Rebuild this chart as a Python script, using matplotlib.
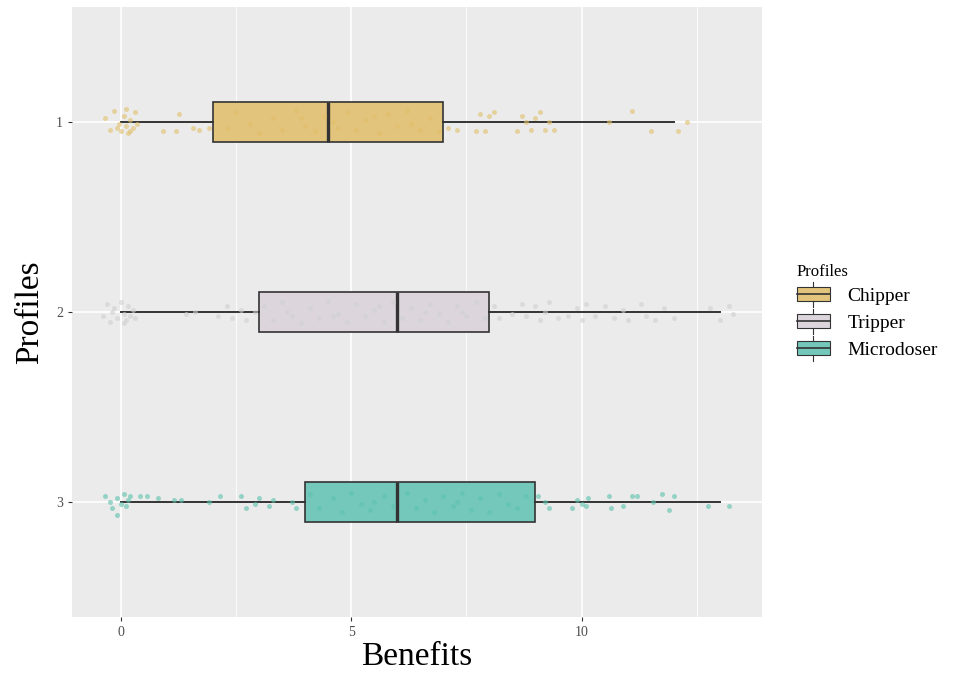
import matplotlib
import matplotlib.pyplot as plt
from matplotlib.legend_handler import HandlerBase
from matplotlib.patches import Rectangle
from matplotlib.lines import Line2D

matplotlib.use("Agg")

# Data
profiles = ["Chipper", "Tripper", "Microdoser"]
positions = [1, 2, 3]
fill_colors = ["#E3C47C", "#DCD6DC", "#74C8BB"]
point_colors = ["#E0C06A", "#D0D0D0", "#5CC2AE"]

# box statistics: whisker low, q1, median, q3, whisker high
whislo = [0, 0, 0]
q1 = [2, 3, 4]
medians = [4.5, 6, 6]
q3 = [7, 8, 9]
whishi = [12, 13, 13]

# jittered observations as (benefit, vertical jitter)
chipper_pts = [(-0.35, -0.02), (-0.25, 0.04), (-0.15, -0.06), (-0.05, 0.01), (0.0, 0.05), (0.05, -0.03),
               (0.1, 0.02), (0.15, 0.06), (0.2, -0.01), (0.25, 0.03), (0.3, -0.05), (0.1, -0.07),
               (0.2, 0.05), (-0.1, 0.03), (0.35, 0.01), (0.9, 0.05), (1.25, -0.04), (1.55, 0.03),
               (1.7, 0.04), (1.9, 0.03), (1.2, 0.05), (2.3, 0.03), (2.5, -0.05), (2.8, 0.01),
               (3.0, 0.06), (3.3, -0.02), (3.5, 0.04), (3.8, -0.06), (4.0, 0.02), (4.2, 0.05),
               (4.4, -0.03), (4.7, 0.03), (4.9, -0.05), (5.1, 0.04), (5.3, -0.01), (5.6, 0.06),
               (5.8, -0.04), (6.0, 0.02), (6.2, -0.06), (6.5, 0.04), (6.7, -0.02), (6.9, 0.05),
               (3.9, -0.02), (4.6, 0.0), (5.5, -0.03), (6.3, 0.01), (7.1, 0.03), (7.3, 0.04),
               (7.7, 0.05), (7.9, 0.05), (8.0, -0.03), (7.8, -0.04), (8.1, -0.05), (8.6, 0.05),
               (8.8, 0.0), (8.9, 0.04), (9.0, -0.02), (9.2, 0.04), (9.3, 0.0), (9.4, 0.04),
               (8.7, -0.03), (9.1, -0.05), (10.6, 0.0), (11.1, -0.06), (11.5, 0.05), (12.1, 0.05),
               (12.3, 0.0)]
tripper_pts = [(-0.4, 0.02), (-0.3, -0.04), (-0.25, 0.05), (-0.15, -0.02), (-0.1, 0.03), (0.0, -0.05),
               (0.05, 0.01), (0.1, 0.04), (0.15, -0.03), (0.2, 0.02), (0.25, -0.01), (-0.2, 0.0),
               (0.05, 0.06), (0.3, 0.03), (1.4, 0.01), (1.6, 0.0), (2.1, 0.02), (2.3, -0.03),
               (2.4, 0.03), (2.6, -0.01), (2.7, 0.04), (2.9, 0.0), (3.1, -0.03), (3.3, 0.04),
               (3.5, -0.05), (3.7, 0.02), (3.9, 0.06), (4.1, -0.02), (4.3, 0.03), (4.5, -0.06),
               (4.7, 0.01), (4.9, 0.05), (5.1, -0.04), (5.3, 0.02), (5.5, -0.01), (5.7, 0.05),
               (5.9, -0.05), (6.1, 0.03), (6.3, -0.02), (6.5, 0.04), (6.7, -0.04), (6.9, 0.01),
               (7.1, 0.05), (7.3, -0.03), (7.5, 0.02), (7.7, -0.05), (7.9, 0.03), (3.6, 0.0),
               (4.6, 0.02), (5.6, -0.03), (6.6, 0.0), (7.4, 0.0), (8.1, -0.03), (8.2, 0.03),
               (8.5, 0.01), (8.7, -0.04), (8.8, 0.02), (9.0, -0.03), (9.1, 0.04), (9.2, 0.0),
               (9.3, -0.05), (9.5, 0.03), (9.7, 0.02), (9.9, -0.02), (10.0, 0.04), (10.1, -0.04),
               (10.3, 0.02), (10.5, -0.03), (10.7, 0.03), (10.9, -0.01), (11.0, 0.04), (11.3, -0.04),
               (11.4, 0.02), (11.6, 0.04), (11.8, -0.02), (12.0, 0.03), (12.8, -0.02), (13.0, 0.04),
               (13.2, -0.03), (13.3, 0.01)]
microdoser_pts = [(-0.35, -0.03), (-0.25, 0.0), (-0.2, 0.03), (-0.1, -0.02), (0.0, 0.01), (0.05, -0.04),
                  (0.1, 0.02), (0.15, -0.01), (-0.1, 0.07), (0.2, -0.03), (0.4, -0.03), (0.55, -0.03),
                  (0.8, -0.02), (1.15, -0.01), (1.3, -0.01), (1.9, 0.0), (2.15, -0.03), (2.6, -0.03),
                  (2.7, 0.03), (2.9, 0.01), (3.0, -0.02), (3.2, 0.02), (3.3, -0.01), (3.7, 0.0),
                  (3.8, 0.03), (4.1, -0.04), (4.3, 0.03), (4.6, -0.02), (4.8, 0.05), (5.0, -0.05),
                  (5.2, 0.01), (5.4, 0.04), (5.7, -0.03), (5.9, 0.02), (6.2, -0.05), (6.4, 0.03),
                  (6.6, -0.01), (6.8, 0.05), (7.0, -0.03), (7.2, 0.02), (7.4, -0.05), (7.6, 0.04),
                  (7.8, -0.02), (8.0, 0.05), (8.2, -0.04), (8.4, 0.01), (8.6, 0.03), (8.8, -0.03),
                  (5.5, 0.0), (7.3, 0.0), (9.05, -0.03), (9.2, 0.0), (9.3, 0.03), (9.8, 0.03),
                  (9.9, -0.01), (10.0, 0.01), (10.1, 0.02), (10.15, -0.02), (10.6, -0.03), (10.65, 0.03),
                  (10.9, 0.02), (11.1, -0.03), (11.2, -0.03), (11.55, 0.0), (11.75, -0.04), (11.9, 0.04),
                  (12.0, -0.03), (12.75, 0.02), (13.2, 0.02)]
all_points = [chipper_pts, tripper_pts, microdoser_pts]

SERIF = ["Liberation Serif", "DejaVu Serif"]
EDGE = "#333333"


class BoxKeyHandler(HandlerBase):
    """ggplot-like boxplot legend key."""

    def create_artists(self, legend, orig_handle, xdescent, ydescent, width, height, fontsize, trans):
        cx = width / 2 - xdescent
        top = height - ydescent
        bot = -ydescent
        box = Rectangle((-xdescent, bot + height * 0.22), width, height * 0.56,
                        facecolor=orig_handle.get_facecolor(), edgecolor=EDGE,
                        linewidth=0.8, transform=trans)
        med = Line2D([-xdescent, width - xdescent], [bot + height / 2] * 2,
                     color=EDGE, linewidth=1.2, transform=trans)
        w1 = Line2D([cx, cx], [bot, bot + height * 0.22], color=EDGE, linewidth=0.8, transform=trans)
        w2 = Line2D([cx, cx], [bot + height * 0.78, top], color=EDGE, linewidth=0.8, transform=trans)
        return [box, med, w1, w2]


fig = plt.figure(figsize=(9.56, 6.79), dpi=100)
ax = fig.add_axes([0.0753, 0.0913, 0.7217, 0.8984])
ax.set_facecolor("#EBEBEB")

# grid like ggplot2
for v in [2.5, 7.5, 12.5]:
    ax.axvline(v, color="white", linewidth=0.6, zorder=0)
for v in [0, 5, 10]:
    ax.axvline(v, color="white", linewidth=1.2, zorder=0)
for v in positions:
    ax.axhline(v, color="white", linewidth=1.2, zorder=0)

stats = []
for i, name in enumerate(profiles):
    stats.append({"label": name, "whislo": whislo[i], "q1": q1[i], "med": medians[i],
                  "q3": q3[i], "whishi": whishi[i], "fliers": []})

bp = ax.bxp(stats, positions=positions, widths=0.21, orientation="horizontal",
            patch_artist=True, showcaps=False, showfliers=False,
            boxprops=dict(edgecolor=EDGE, linewidth=1.2),
            whiskerprops=dict(color=EDGE, linewidth=1.4),
            medianprops=dict(color=EDGE, linewidth=2.4))
for patch, col in zip(bp["boxes"], fill_colors):
    patch.set_facecolor(col)
    patch.set_zorder(2)

for pos, pts, col in zip(positions, all_points, point_colors):
    xs = [p[0] for p in pts]
    ys = [pos + p[1] for p in pts]
    ax.scatter(xs, ys, s=13, color=col, alpha=0.6, linewidths=0, zorder=3)

ax.set_xlim(-1.07, 13.92)
ax.set_ylim(3.605, 0.395)
ax.set_xticks([0, 5, 10])
ax.set_yticks(positions)
ax.set_yticklabels(["1", "2", "3"])
for lab in ax.get_xticklabels() + ax.get_yticklabels():
    lab.set_fontfamily(SERIF)
    lab.set_fontsize(10)
    lab.set_color("#4D4D4D")
ax.tick_params(length=3, color="#333333", width=0.8)
for s in ax.spines.values():
    s.set_visible(False)

ax.set_xlabel("Benefits", fontsize=24, family=SERIF, labelpad=2)
ax.set_ylabel("Profiles", fontsize=24, family=SERIF, labelpad=8)

handles = [Rectangle((0, 0), 1, 1, facecolor=c) for c in fill_colors]
leg = fig.legend(handles, profiles, title="Profiles", loc="center left",
                 bbox_to_anchor=(0.815, 0.54), frameon=False,
                 handler_map={Rectangle: BoxKeyHandler()},
                 prop={"family": SERIF, "size": 14}, handlelength=1.7, handleheight=1.6,
                 handletextpad=0.9, labelspacing=0.1)
leg.get_title().set_fontfamily(SERIF)
leg.get_title().set_fontsize(12)
leg._legend_box.align = "left"

fig.savefig("out.png", dpi=100)
